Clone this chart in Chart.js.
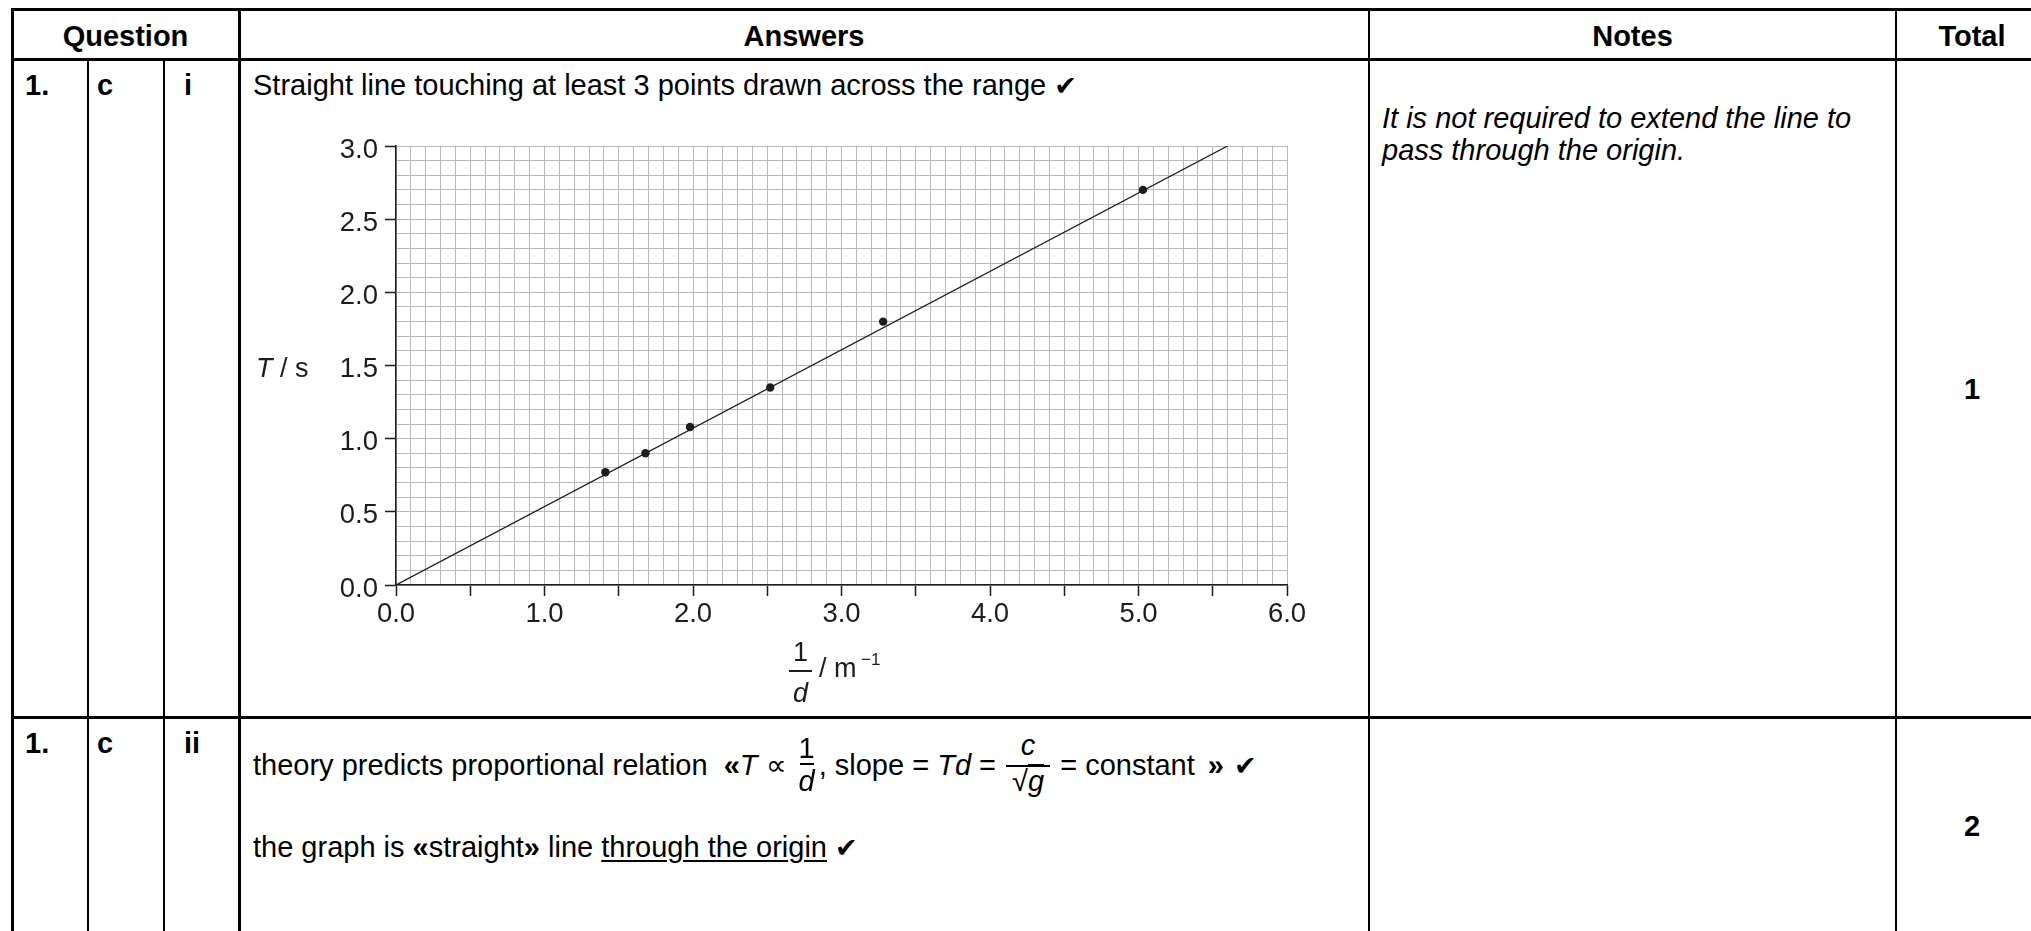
<!DOCTYPE html>
<html>
<head>
<meta charset="utf-8">
<script src="https://cdn.jsdelivr.net/npm/chart.js@4.4.1/dist/chart.umd.min.js"></script>
<style>
  html, body { margin:0; padding:0; background:#fff; }
  body { width:2031px; height:931px; position:relative; overflow:hidden;
         font-family:"Liberation Sans", Arial, sans-serif; color:#000; }
  .h { position:absolute; background:#000; height:2.7px; }
  .v { position:absolute; background:#000; width:2.7px; }
  .t { position:absolute; line-height:1; white-space:nowrap; font-size:29px; }
  .b { font-weight:bold; }
  .c { text-align:center; }
  .ck { font-family:"DejaVu Sans", sans-serif; font-weight:bold; font-size:27px; }
  .frac { display:inline-block; position:relative; height:0; vertical-align:baseline; }
  .frac > .n, .frac > .d { position:absolute; left:0; right:0; text-align:center; line-height:1; }
  .frac > .bar { position:absolute; left:0; right:0; height:1.5px; background:#000; }
  #chartBox { position:absolute; left:300px; top:120px; width:1020px; height:520px; }
  .ct { position:absolute; line-height:1; white-space:nowrap; font-size:27px; color:#1e1b1c; }
</style>
</head>
<body>
<!-- table rules -->
<div class="h" style="left:11px; top:8px; width:2040px;"></div>
<div class="h" style="left:11px; top:58px; width:2040px;"></div>
<div class="h" style="left:11px; top:716.4px; width:2040px;"></div>
<div class="v" style="left:11px; top:8px; height:940px;"></div>
<div class="v" style="left:86.7px; top:58px; height:900px;"></div>
<div class="v" style="left:162.7px; top:58px; height:900px;"></div>
<div class="v" style="left:238px; top:8px; height:940px;"></div>
<div class="v" style="left:1367.7px; top:8px; height:940px;"></div>
<div class="v" style="left:1894.7px; top:8px; height:940px;"></div>

<!-- header -->
<div class="t b c" style="left:12px; width:227px; top:22.2px;">Question</div>
<div class="t b c" style="left:239px; width:1130px; top:22.2px;">Answers</div>
<div class="t b c" style="left:1369px; width:527px; top:22.2px;">Notes</div>
<div class="t b c" style="left:1896px; width:152px; top:22.2px;">Total</div>

<!-- row 1 -->
<div class="t b" style="left:25px; top:70.5px;">1.</div>
<div class="t b" style="left:97px; top:70.5px;">c</div>
<div class="t b" style="left:184px; top:70.5px;">i</div>
<div class="t" style="left:253px; top:70.5px;">Straight line touching at least 3 points drawn across the range <span class="ck">✔</span></div>
<div class="t" style="left:1382px; top:103.5px; font-style:italic;">It is not required to extend the line to</div>
<div class="t" style="left:1382px; top:135.5px; font-style:italic;">pass through the origin.</div>
<div class="t b c" style="left:1896px; width:152px; top:374.5px;">1</div>

<!-- chart -->
<div id="chartBox"><canvas id="chart"></canvas></div>
<div class="ct" style="left:256px; top:355.1px;"><i>T</i> / s</div>
<div class="ct" style="left:789px; width:23px; top:638.8px; text-align:center;">1</div>
<div style="position:absolute; left:789px; top:670px; width:23px; height:1.5px; background:#1e1b1c;"></div>
<div class="ct" style="left:789px; width:23px; top:680px; text-align:center;"><i>d</i></div>
<div class="ct" style="left:819px; top:655.1px;">/ m</div>
<div class="ct" style="left:861px; top:651px; font-size:17px;">&minus;1</div>

<!-- row 2 -->
<div class="t b" style="left:25px; top:728.5px;">1.</div>
<div class="t b" style="left:97px; top:728.5px;">c</div>
<div class="t b" style="left:184px; top:728.5px;">ii</div>
<div class="t" style="left:253px; top:750.5px;">theory predicts proportional relation&nbsp; <b>«</b><i>T</i> ∝ <span class="frac" style="width:24px;"><span class="n" style="bottom:12px;">1</span><span class="bar" style="bottom:10px; left:5px; right:5px;"></span><span class="d" style="bottom:-21.5px;"><i>d</i></span></span>, slope = <i>Td</i> = <span class="frac" style="width:48px;"><span class="n" style="bottom:15px;"><i>c</i></span><span class="bar" style="bottom:8px; left:2px; right:2px;"></span><span class="d" style="bottom:-21.5px;">√<span style="border-top:1.5px solid #000;"><i>g</i></span></span></span> = constant <b style="margin-left:5px;">»</b> <span class="ck" style="margin-left:2px;">✔</span></div>
<div class="t" style="left:253px; top:832.5px;">the graph is <b>«</b>straight<b>»</b> line <span style="text-decoration:underline; text-underline-offset:3px; text-decoration-thickness:2px;">through the origin</span> <span class="ck">✔</span></div>
<div class="t b c" style="left:1896px; width:152px; top:811.5px;">2</div>

<script>
// ---- data ----
const invD = [1.41, 1.68, 1.98, 2.52, 3.28, 5.03];      // 1/d  (m^-1)
const periodT = [0.77, 0.90, 1.08, 1.35, 1.80, 2.70];   // T (s)
const fitInvD = [0.0, 5.6];                              // best-fit line ends
const fitT = [0.0, 3.0];
const xTickLabels = ['0.0', '1.0', '2.0', '3.0', '4.0', '5.0', '6.0'];
const yTickLabels = ['0.0', '0.5', '1.0', '1.5', '2.0', '2.5', '3.0'];

const ink = '#1e1b1c';
const gridGrey = '#b8b8b8';
const tickFont = { family: '"Liberation Sans", Arial, sans-serif', size: 27.5 };

function xLabel(v) {
  const k = Math.round(v);
  return Math.abs(v - k) < 1e-6 ? xTickLabels[k] : '';
}
function yLabel(v) {
  const k = Math.round(v * 2);
  return Math.abs(v * 2 - k) < 1e-6 ? yTickLabels[k] : '';
}
function isHalf(v) { return Math.abs(v * 2 - Math.round(v * 2)) < 1e-6; }

new Chart(document.getElementById('chart'), {
  type: 'scatter',
  data: {
    datasets: [
      {
        data: invD.map((x, i) => ({ x: x, y: periodT[i] })),
        pointRadius: 4.2, pointBackgroundColor: ink, pointBorderWidth: 0,
        showLine: false, order: 0
      },
      {
        data: fitInvD.map((x, i) => ({ x: x, y: fitT[i] })),
        showLine: true, borderColor: ink, borderWidth: 1.3,
        pointRadius: 0, fill: false, order: 1
      }
    ]
  },
  options: {
    responsive: true, maintainAspectRatio: false, animation: false, devicePixelRatio: 1,
    layout: { padding: { top: 26, right: 33, left: 0, bottom: 0 } },
    plugins: { legend: { display: false }, tooltip: { enabled: false } },
    scales: {
      x: {
        type: 'linear', min: 0, max: 6,
        afterFit: s => { s.height = 55; },
        border: { display: true, color: ink, width: 1.5 },
        grid: {
          color: gridGrey, lineWidth: 1, borderDash: [3, 2],
          tickLength: 11, tickWidth: 1.5, tickBorderDash: [],
          tickColor: c => isHalf(c.tick.value) ? ink : 'rgba(0,0,0,0)'
        },
        ticks: {
          stepSize: 0.1, autoSkip: false, maxRotation: 0, minRotation: 0,
          padding: 2, color: ink, font: tickFont, callback: v => xLabel(v)
        }
      },
      y: {
        type: 'linear', min: 0, max: 3,
        afterFit: s => { s.width = 96; },
        border: { display: true, color: ink, width: 1.5 },
        grid: {
          color: gridGrey, lineWidth: 1, borderDash: [3, 2],
          tickLength: 11, tickWidth: 1.5, tickBorderDash: [],
          tickColor: c => isHalf(c.tick.value) ? ink : 'rgba(0,0,0,0)'
        },
        ticks: {
          stepSize: 0.1, autoSkip: false, padding: 7, labelOffset: 4,
          color: ink, font: tickFont, callback: v => yLabel(v)
        }
      }
    }
  }
});
</script>
</body>
</html>
